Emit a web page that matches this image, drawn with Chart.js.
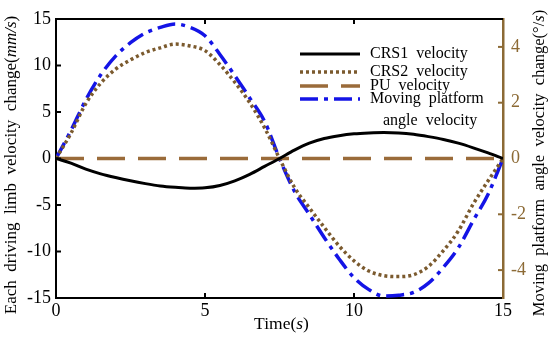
<!DOCTYPE html>
<html>
<head>
<meta charset="utf-8">
<script src="https://cdn.jsdelivr.net/npm/chart.js@4.4.1/dist/chart.umd.min.js"></script>
<style>
  html, body { margin: 0; padding: 0; background: #fff; }
  #wrap { position: relative; width: 550px; height: 337px; }
</style>
</head>
<body>
<div id="wrap"><canvas id="chart"></canvas></div>
<script>
// time samples (s)
const timeS = [0, 0.5, 1, 1.5, 2, 2.5, 3, 3.5, 4, 4.5, 5, 5.5, 6, 6.5, 7, 7.5,
               8, 8.5, 9, 9.5, 10, 10.5, 11, 11.5, 12, 12.5, 13, 13.5, 14, 14.5, 15];
// limb velocity change (mm/s), left axis
const crs1Vel = [0, -0.5, -1.15, -1.65, -2.05, -2.4, -2.7, -2.95, -3.1, -3.2, -3.15, -2.9, -2.4, -1.7, -0.85, 0,
                 0.9, 1.65, 2.15, 2.45, 2.65, 2.75, 2.8, 2.75, 2.6, 2.35, 2.05, 1.65, 1.15, 0.6, 0];
const crs2Vel = [0, 2.7, 5.9, 8.1, 9.6, 10.6, 11.4, 11.9, 12.3, 12.1, 11.6, 10.1, 8.2, 6.0, 3.3, 0,
                 -3.1, -5.3, -7.4, -9.4, -11.0, -12.1, -12.6, -12.7, -12.5, -11.6, -9.9, -7.8, -4.9, -2.4, 0];
const puVel = [0, 0, 0, 0, 0, 0, 0, 0, 0, 0, 0, 0, 0, 0, 0, 0,
               0, 0, 0, 0, 0, 0, 0, 0, 0, 0, 0, 0, 0, 0, 0];
// platform angle velocity change (deg/s), right axis
const platformVel = [0, 1.0, 2.1, 3.0, 3.67, 4.15, 4.5, 4.7, 4.82, 4.7, 4.4, 3.73, 2.97, 2.17, 1.33, 0,
                     -1.17, -2.0, -2.83, -3.6, -4.27, -4.7, -4.93, -4.9, -4.8, -4.47, -3.9, -3.2, -2.23, -1.28, 0];

const xTicks = [0, 5, 10, 15];
const leftTicks = [-15, -10, -5, 0, 5, 10, 15];
const rightTicks = [-4, -2, 0, 2, 4];
const legendLabels = [['CRS1  velocity'], ['CRS2  velocity'], ['PU  velocity'], ['Moving  platform', 'angle  velocity']];

const BROWN_AXIS = '#8c6a35';
const SERIF = '"Liberation Serif", "DejaVu Serif", serif';

function pts(ys) {
    return timeS.map((t, i) => ({ x: t, y: ys[i] }));
}

// draw text made of plain/italic pieces, centred on (cx, cy), optionally rotated
function drawMixed(ctx, parts, cx, cy, size, rot) {
    ctx.save();
    ctx.translate(cx, cy);
    ctx.rotate(rot);
    ctx.textBaseline = 'middle';
    ctx.fillStyle = '#000';
    let total = 0;
    parts.forEach(p => {
        ctx.font = (p[1] ? 'italic ' : '') + size + 'px ' + SERIF;
        total += ctx.measureText(p[0]).width;
    });
    let x = -total / 2;
    parts.forEach(p => {
        ctx.font = (p[1] ? 'italic ' : '') + size + 'px ' + SERIF;
        ctx.fillText(p[0], x, 0);
        x += ctx.measureText(p[0]).width;
    });
    ctx.restore();
}

// inward tick marks, top frame, axis titles
const frameDeco = {
    id: 'frameDeco',
    afterDraw(chart) {
        const { ctx, chartArea: a, scales } = chart;
        const len = 5;
        ctx.save();
        ctx.lineWidth = 2;
        ctx.strokeStyle = '#000';
        xTicks.slice(1, -1).forEach(v => {
            const px = scales.x.getPixelForValue(v);
            ctx.beginPath();
            ctx.moveTo(px, a.bottom); ctx.lineTo(px, a.bottom - len);
            ctx.moveTo(px, a.top); ctx.lineTo(px, a.top + len);
            ctx.stroke();
        });
        leftTicks.slice(1, -1).forEach(v => {
            const py = scales.y.getPixelForValue(v);
            ctx.beginPath();
            ctx.moveTo(a.left, py); ctx.lineTo(a.left + len, py);
            ctx.stroke();
        });
        ctx.beginPath();
        ctx.moveTo(a.left, a.top); ctx.lineTo(a.right, a.top);
        ctx.stroke();
        ctx.strokeStyle = BROWN_AXIS;
        rightTicks.forEach(v => {
            if (v === 0) return;
            const py = scales.y1.getPixelForValue(v);
            ctx.beginPath();
            ctx.moveTo(a.right, py); ctx.lineTo(a.right - len, py);
            ctx.stroke();
        });
        ctx.restore();

        drawMixed(ctx, [['Time(', false], ['s', true], [')', false]], (a.left + a.right) / 2 + 2, 324, 17.5, 0);
        drawMixed(ctx, [['Each  driving  limb  velocity  change(', false], ['mm/s', true], [')', false]], 12, 165, 17, -Math.PI / 2);
        drawMixed(ctx, [['Moving  platform  angle  velocity  change(°/', false], ['s', true], [')', false]], 540, 163, 16.5, -Math.PI / 2);
    }
};

// legend drawn inside the plot area
const innerLegend = {
    id: 'innerLegend',
    afterDraw(chart) {
        const ctx = chart.ctx;
        const rows = [54, 72, 86, 99];
        ctx.save();
        ctx.font = '16px ' + SERIF;
        ctx.fillStyle = '#000';
        ctx.textBaseline = 'middle';
        chart.data.datasets.forEach((ds, i) => {
            const y = rows[i];
            ctx.strokeStyle = ds.borderColor;
            ctx.lineWidth = ds.borderWidth;
            ctx.setLineDash(ds.borderDash || []);
            ctx.beginPath();
            ctx.moveTo(300, y); ctx.lineTo(360, y);
            ctx.stroke();
            ctx.setLineDash([]);
            const lines = legendLabels[i];
            ctx.fillText(lines[0], 370, y);
            if (lines[1]) ctx.fillText(lines[1], 383, y + 22);
        });
        ctx.restore();
    }
};

new Chart(document.getElementById('chart'), {
    type: 'line',
    data: {
        datasets: [
            { label: 'CRS1 velocity', data: pts(crs1Vel), yAxisID: 'y', borderColor: '#000', borderWidth: 3 },
            { label: 'CRS2 velocity', data: pts(crs2Vel), yAxisID: 'y', borderColor: '#7b5a2e', borderWidth: 3.5, borderDash: [3, 3] },
            { label: 'PU velocity', data: pts(puVel), yAxisID: 'y', borderColor: '#9a6b3a', borderWidth: 3.5, borderDash: [28, 13] },
            { label: 'Moving platform angle velocity', data: pts(platformVel), yAxisID: 'y1', borderColor: '#1414e6', borderWidth: 3.5, borderDash: [18, 6, 4, 6] }
        ]
    },
    options: {
        responsive: true,
        maintainAspectRatio: false,
        animation: false,
        layout: { padding: { top: 19, right: 0, left: 0, bottom: 0 } },
        elements: { point: { radius: 0 }, line: { cubicInterpolationMode: 'monotone' } },
        plugins: { legend: { display: false }, tooltip: { enabled: false } },
        scales: {
            x: {
                type: 'linear', min: 0, max: 15,
                afterBuildTicks: s => { s.ticks = xTicks.map(v => ({ value: v })); },
                afterFit: s => { s.height = 39; },
                grid: { display: false, drawTicks: false },
                border: { color: '#000', width: 2 },
                ticks: { color: '#000', font: { family: SERIF, size: 18 }, padding: 2, maxRotation: 0 }
            },
            y: {
                position: 'left', min: -15, max: 15,
                afterBuildTicks: s => { s.ticks = leftTicks.map(v => ({ value: v })); },
                afterFit: s => { s.width = 56; },
                grid: { display: false, drawTicks: false },
                border: { color: '#000', width: 2 },
                ticks: { color: '#000', font: { family: SERIF, size: 18 }, padding: 5 }
            },
            y1: {
                position: 'right', min: -5, max: 5,
                afterBuildTicks: s => { s.ticks = rightTicks.map(v => ({ value: v })); },
                afterFit: s => { s.width = 47; },
                grid: { display: false, drawTicks: false },
                border: { color: BROWN_AXIS, width: 2.5 },
                ticks: { color: BROWN_AXIS, font: { family: SERIF, size: 18 }, padding: 8 }
            }
        }
    },
    plugins: [frameDeco, innerLegend]
});
</script>
</body>
</html>
